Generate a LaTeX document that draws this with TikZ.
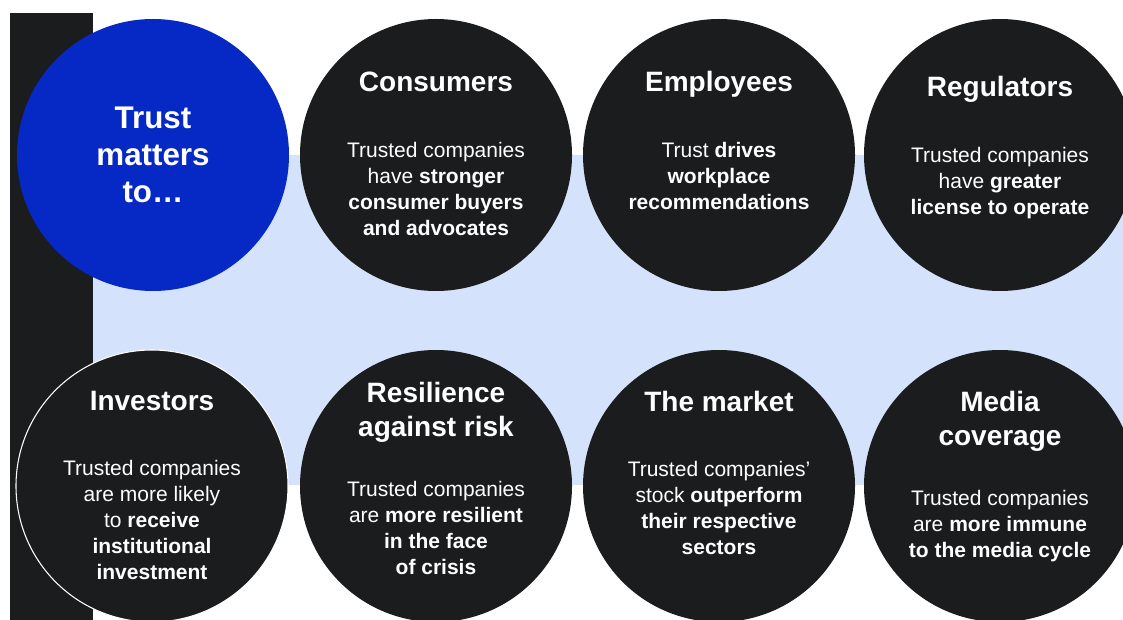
\documentclass[tikz,border=0pt]{standalone}
\usepackage{fontspec}
\setmainfont{Liberation Sans}
\definecolor{trustblue}{RGB}{6,40,196}
\definecolor{discblack}{RGB}{26,28,30}
\definecolor{bandblue}{RGB}{212,227,251}

\begin{document}
\begin{tikzpicture}[x=0.75pt,y=-0.75pt,
    disc/.style={circle,fill=discblack,minimum size=204pt,inner sep=0pt},
    head/.style={text=white,align=center,font=\fontsize{21}{25.5}\selectfont\bfseries},
    body/.style={text=white,align=center,font=\fontsize{15.75}{19.5}\selectfont}]
    % Page size and clipping
    \useasboundingbox (0,0) rectangle (1123,620);
    \clip (0,0) rectangle (1123,620);

    % Black bar and light blue band
    \fill[discblack] (10,13) rectangle (93,620);
    \fill[bandblue] (93,155) rectangle (1123,485);

    % Top row
    \node[disc,fill=trustblue] (trust) at (153,155) {};
    \node[text=white,align=center,font=\fontsize{23.5}{27.75}\selectfont\bfseries] (trusttxt) at (153,155) {Trust\\matters\\to…};

    \node[disc] (consumers) at (436,155) {};
    \node[head] (consumershead) at (436,82) {Consumers};
    \node[body] (consumersbody) at (436,189) {Trusted companies\\have \textbf{stronger}\\\textbf{consumer buyers}\\\textbf{and advocates}};

    \node[disc] (employees) at (719,155) {};
    \node[head] (employeeshead) at (719,84) {Employees};
    \node[body] (employeesbody) at (719,176) {Trust \textbf{drives}\\\textbf{workplace}\\\textbf{recommendations}};

    \node[disc] (regulators) at (1000,155) {};
    \node[head] (regulatorshead) at (1000,89) {Regulators};
    \node[body] (regulatorsbody) at (1000,183) {Trusted companies\\have \textbf{greater}\\\textbf{license to operate}};

    % Bottom row
    \node[disc,draw=white,line width=0.8pt] (investors) at (152,486) {};
    \node[head] (investorshead) at (152,401) {Investors};
    \node[body] (investorsbody) at (152,520) {Trusted companies\\are more likely\\to \textbf{receive}\\\textbf{institutional}\\\textbf{investment}};

    \node[disc] (resilience) at (436,486) {};
    \node[head] (resiliencehead) at (436,412) {Resilience\\against risk};
    \node[body] (resiliencebody) at (436,528) {Trusted companies\\are \textbf{more resilient}\\\textbf{in the face}\\\textbf{of crisis}};

    \node[disc] (market) at (719,486) {};
    \node[head] (markethead) at (719,401) {The market};
    \node[body] (marketbody) at (719,508) {Trusted companies’\\stock \textbf{outperform}\\\textbf{their respective}\\\textbf{sectors}};

    \node[disc] (media) at (1000,486) {};
    \node[head] (mediahead) at (1000,421) {Media\\coverage};
    \node[body] (mediabody) at (1000,526) {Trusted companies\\are \textbf{more immune}\\\textbf{to the media cycle}};
\end{tikzpicture}
\end{document}
